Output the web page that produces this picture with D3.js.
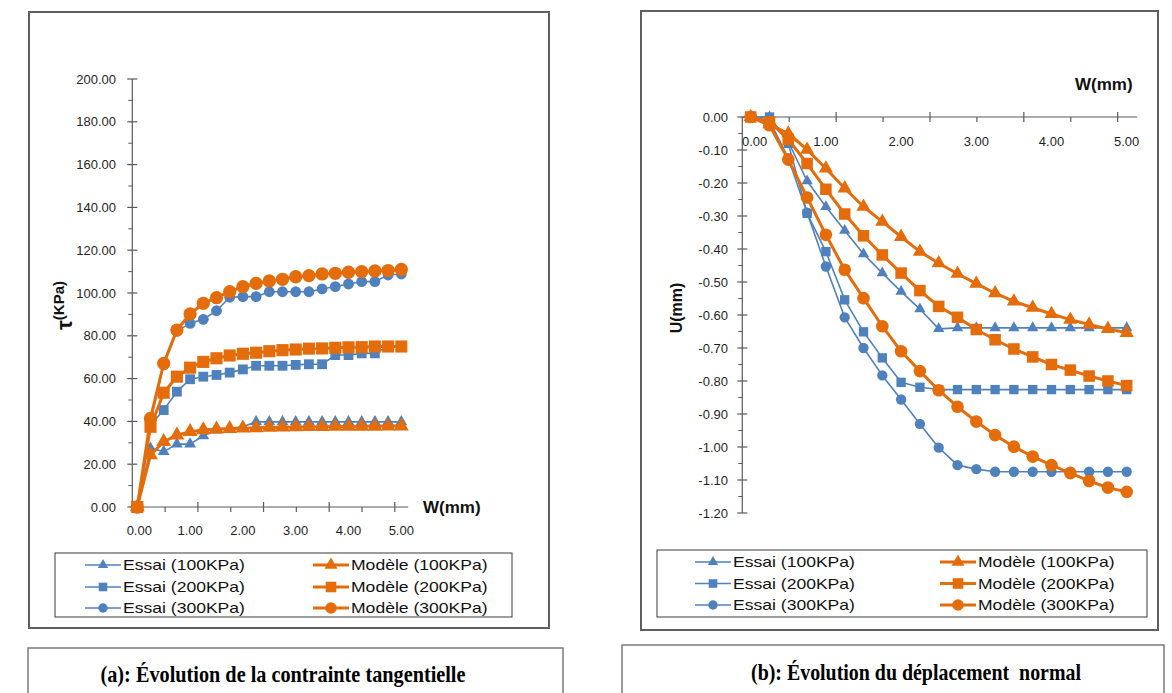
<!DOCTYPE html>
<html>
<head>
<meta charset="utf-8">
<script src="https://cdn.jsdelivr.net/npm/d3@7"></script>
<style>
  body { margin: 0; background: #fff; }
  svg text { font-family: 'Liberation Sans', Arial, sans-serif; }
</style>
</head>
<body>
<svg id="fig" width="1172" height="693"></svg>
<script>
// Horizontal displacement W (mm)
const displacement = [0, 0.25, 0.5, 0.75, 1, 1.25, 1.5, 1.75, 2, 2.25, 2.5, 2.75, 3, 3.25, 3.5, 3.75, 4, 4.25, 4.5, 4.75, 5];

// Shear stress tau (KPa)
const tauEssai100  = [0, 27.4, 25.9, 29.4, 29.4, 33.3, 36.0, 36.8, 37.5, 39.8, 39.8, 39.8, 39.8, 39.8, 39.8, 39.8, 39.8, 39.8, 39.8, 39.8, 39.8];
const tauModele100 = [0, 24.3, 30.5, 33.6, 35.2, 36.0, 36.4, 36.6, 36.8, 37.0, 37.2, 37.3, 37.4, 37.5, 37.5, 37.6, 37.6, 37.7, 37.7, 37.8, 37.8];
const tauEssai200  = [0, 38.3, 45.3, 53.9, 59.7, 60.9, 61.7, 62.8, 64.3, 66.0, 66.0, 66.0, 66.4, 66.7, 66.7, 71.0, 71.0, 71.8, 71.8, 75.0, 75.2];
const tauModele200 = [0, 37.5, 53.4, 60.9, 65.1, 67.8, 69.5, 70.8, 71.6, 72.1, 72.8, 73.3, 73.6, 74.0, 74.1, 74.4, 74.6, 74.7, 75.0, 75.0, 75.0];
const tauEssai300  = [0, 40.0, 66.4, 82.2, 85.8, 87.7, 91.7, 98.0, 98.3, 98.3, 100.6, 100.6, 100.6, 100.6, 101.9, 103.0, 104.2, 105.3, 105.3, 108.4, 108.9];
const tauModele300 = [0, 41.4, 67.1, 82.7, 90.2, 95.2, 97.8, 100.6, 103.0, 104.5, 105.6, 106.4, 107.6, 108.1, 108.9, 109.2, 109.7, 110.0, 110.3, 110.5, 111.0];

// Normal displacement U (mm)
const uEssai100  = [0, 0, -0.075, -0.194, -0.272, -0.344, -0.415, -0.473, -0.529, -0.582, -0.642, -0.639, -0.639, -0.639, -0.639, -0.639, -0.639, -0.639, -0.639, -0.639, -0.639];
const uModele100 = [0, -0.022, -0.05, -0.099, -0.156, -0.216, -0.272, -0.317, -0.363, -0.408, -0.443, -0.475, -0.505, -0.534, -0.559, -0.578, -0.597, -0.614, -0.629, -0.642, -0.654];
const uEssai200  = [0, 0, -0.08, -0.292, -0.408, -0.554, -0.651, -0.73, -0.804, -0.819, -0.826, -0.826, -0.826, -0.826, -0.826, -0.826, -0.826, -0.826, -0.826, -0.826, -0.826];
const uModele200 = [0, -0.015, -0.068, -0.141, -0.219, -0.294, -0.36, -0.418, -0.473, -0.526, -0.574, -0.607, -0.644, -0.675, -0.703, -0.727, -0.75, -0.767, -0.785, -0.80, -0.814];
const uEssai300  = [0, -0.01, -0.125, -0.29, -0.453, -0.607, -0.70, -0.783, -0.856, -0.93, -1.002, -1.055, -1.067, -1.075, -1.075, -1.075, -1.075, -1.075, -1.075, -1.075, -1.075];
const uModele300 = [0, -0.025, -0.129, -0.244, -0.357, -0.463, -0.549, -0.634, -0.71, -0.77, -0.828, -0.878, -0.923, -0.964, -0.999, -1.029, -1.055, -1.079, -1.103, -1.123, -1.136];

// Axis ticks
const wTickLabels = [0, 1, 2, 3, 4, 5];
const tauTicks = [0, 20, 40, 60, 80, 100, 120, 140, 160, 180, 200];
const uTicks = [0, -0.1, -0.2, -0.3, -0.4, -0.5, -0.6, -0.7, -0.8, -0.9, -1.0, -1.1, -1.2];
const wTickMarksA = [-0.095, 0.527, 1.148, 1.77, 2.391, 3.012, 3.634, 4.255, 4.877];
const wTickMarksB = [-0.112, 0.512, 1.136, 1.76, 2.384, 3.008, 3.632, 4.256, 4.88];

const seriesNames = ['Essai (100KPa)', 'Modèle (100KPa)', 'Essai (200KPa)', 'Modèle (200KPa)', 'Essai (300KPa)', 'Modèle (300KPa)'];

const BLUE = '#4f81bd', ORANGE = '#e46c0a', AXIS = '#5a5a5a', LABEL = '#1f1f1f';
const fmt = d3.formatLocale({decimal: '.', thousands: ',', grouping: [3], currency: ['', ''], minus: '-'}).format('.2f');

const shapes = {tri: d3.symbolTriangle, sq: d3.symbolSquare, circ: d3.symbolCircle};
const markerSize = {
  essai: {tri: 58, sq: 92, circ: 88},
  modele: {tri: 92, sq: 140, circ: 132}
};

function seriesStyle(i) {
  const essai = i % 2 === 0;
  const shape = ['tri', 'sq', 'circ'][Math.floor(i / 2)];
  return {
    color: essai ? BLUE : ORANGE,
    width: essai ? 1.6 : 3,
    shape,
    size: markerSize[essai ? 'essai' : 'modele'][shape]
  };
}

const svg = d3.select('#fig');

function panel(o) {
  const g = svg.append('g');
  const x = d3.scaleLinear().domain([0, 5]).range(o.xRange);
  const y = d3.scaleLinear().domain(o.yDomain).range(o.yRange);
  const axisX = x(o.tickMarks[0]);
  const y0 = y(0);
  const yMin = d3.min(o.yTicks), yMax = d3.max(o.yTicks);

  // vertical axis
  g.append('line').attr('x1', axisX).attr('x2', axisX)
    .attr('y1', y(yMax)).attr('y2', y(yMin))
    .attr('stroke', AXIS).attr('stroke-width', 1.2);
  const step = o.yTicks[1] - o.yTicks[0];
  o.yTicks.forEach((v, i) => {
    g.append('line').attr('x1', axisX - 5).attr('x2', axisX + 5)
      .attr('y1', y(v)).attr('y2', y(v)).attr('stroke', AXIS).attr('stroke-width', 1.2);
    if (i < o.yTicks.length - 1) {
      const m = v + step / 2;
      g.append('line').attr('x1', axisX - 4).attr('x2', axisX)
        .attr('y1', y(m)).attr('y2', y(m)).attr('stroke', AXIS).attr('stroke-width', 1);
    }
    g.append('text').attr('x', o.yLabelX).attr('y', y(v)).attr('dy', '0.36em')
      .attr('text-anchor', 'end').attr('font-size', 13).attr('fill', LABEL)
      .text(fmt(v));
  });

  // horizontal axis
  g.append('line').attr('x1', axisX).attr('x2', x(o.xAxisEnd))
    .attr('y1', y0).attr('y2', y0).attr('stroke', AXIS).attr('stroke-width', 1.2);
  o.tickMarks.forEach((t, k) => {
    if (k === 0) return;
    const major = k % 2 === 0;
    g.append('line').attr('x1', x(t)).attr('x2', x(t))
      .attr('y1', major ? y0 - 5 : y0).attr('y2', y0 + 5)
      .attr('stroke', AXIS).attr('stroke-width', 1.2);
  });
  wTickLabels.forEach(v => {
    g.append('text').attr('x', x(v) + (v === 0 ? o.zeroShift : 0)).attr('y', o.xLabelY)
      .attr('text-anchor', 'middle').attr('font-size', 13).attr('fill', LABEL)
      .text(fmt(v));
  });

  // series: tests first, then model curves on top
  const order = [0, 2, 4, 1, 3, 5];
  order.forEach(i => {
    const st = seriesStyle(i);
    const pts = displacement.map((w, j) => [x(w), y(o.data[i][j])]);
    g.append('path').attr('d', d3.line()(pts)).attr('fill', 'none')
      .attr('stroke', st.color).attr('stroke-width', st.width)
      .attr('stroke-linejoin', 'round');
    const sym = d3.symbol().type(shapes[st.shape]).size(st.size * o.markerScale);
    g.selectAll(null).data(pts).join('path')
      .attr('transform', d => `translate(${d[0]},${d[1]})`)
      .attr('d', sym).attr('fill', st.color);
  });

  // legend
  const L = o.legend;
  g.append('rect').attr('x', L.x).attr('y', L.y).attr('width', L.w).attr('height', L.h)
    .attr('fill', '#fff').attr('stroke', '#3a3a3a').attr('stroke-width', 1);
  seriesNames.forEach((name, i) => {
    const st = seriesStyle(i);
    const col = i % 2, row = Math.floor(i / 2);
    const lx = L.colX[col], ly = L.rowY[row];
    g.append('line').attr('x1', lx).attr('x2', lx + 36).attr('y1', ly).attr('y2', ly)
      .attr('stroke', st.color).attr('stroke-width', st.width);
    g.append('path').attr('transform', `translate(${lx + 18},${ly})`)
      .attr('d', d3.symbol().type(shapes[st.shape]).size(st.size * 0.8)).attr('fill', st.color);
    const t = g.append('text').attr('x', lx + 38).attr('y', ly).attr('dy', '0.36em')
      .attr('font-size', 15).attr('fill', '#111').text(name);
    const len = t.node().getComputedTextLength();
    t.attr('textLength', len * 1.17).attr('lengthAdjust', 'spacingAndGlyphs');
  });
  return {g, x, y};
}

// outer frames
svg.append('rect').attr('x', 29).attr('y', 12).attr('width', 520).attr('height', 616)
  .attr('fill', 'none').attr('stroke', '#5f5f5f').attr('stroke-width', 2);
svg.append('rect').attr('x', 641).attr('y', 11).attr('width', 517).attr('height', 619)
  .attr('fill', 'none').attr('stroke', '#5f5f5f').attr('stroke-width', 2);

// (a) shear stress
const a = panel({
  xRange: [137.3, 401.3], yDomain: [0, 200], yRange: [507, 79],
  yTicks: tauTicks, tickMarks: wTickMarksA, xAxisEnd: 5.13,
  yLabelX: 116, xLabelY: 535, zeroShift: 2, markerScale: 1.05,
  data: [tauEssai100, tauModele100, tauEssai200, tauModele200, tauEssai300, tauModele300],
  legend: {x: 55, y: 553, w: 457, h: 64, colX: [85, 313], rowY: [565, 587, 608]}
});
a.g.append('text').attr('x', 423).attr('y', 513).attr('font-size', 17)
  .attr('font-weight', 'bold').attr('fill', '#111').text('W(mm)');
const tauLabel = a.g.append('text').attr('transform', 'translate(72,330) rotate(-90)')
  .attr('font-weight', 'bold').attr('fill', '#111');
tauLabel.append('tspan').attr('font-size', 22).text('τ');
tauLabel.append('tspan').attr('font-size', 15).attr('dy', -8).text('(KPa)');

// (b) normal displacement
const b = panel({
  xRange: [750.7, 1126.7], yDomain: [0, -1.2], yRange: [117, 513],
  yTicks: uTicks, tickMarks: wTickMarksB, xAxisEnd: 5.14,
  yLabelX: 728, xLabelY: 146, zeroShift: 4, markerScale: 0.95,
  data: [uEssai100, uModele100, uEssai200, uModele200, uEssai300, uModele300],
  legend: {x: 657, y: 550, w: 490, h: 67, colX: [695, 940], rowY: [562, 583.5, 605]}
});
b.g.append('text').attr('x', 1075).attr('y', 90).attr('font-size', 17)
  .attr('font-weight', 'bold').attr('fill', '#111').text('W(mm)');
b.g.append('text').attr('transform', 'translate(682,308) rotate(-90)')
  .attr('text-anchor', 'middle').attr('font-size', 16).attr('font-weight', 'bold')
  .attr('fill', '#111').text('U(mm)');

// captions
const captions = [
  {x: 28, y: 648, w: 535, cx: 283, ty: 682, len: 365, text: '(a): Évolution de la contrainte tangentielle'},
  {x: 622, y: 645, w: 542, cx: 916, ty: 680, len: 330, text: '(b): Évolution du déplacement  normal'}
];
captions.forEach(c => {
  svg.append('rect').attr('x', c.x).attr('y', c.y).attr('width', c.w).attr('height', 60)
    .attr('fill', 'none').attr('stroke', '#7a7a7a').attr('stroke-width', 1.5);
  svg.append('text').attr('x', c.cx).attr('y', c.ty).attr('text-anchor', 'middle')
    .style('font-family', "'Liberation Serif', 'Times New Roman', serif")
    .style('white-space', 'pre')
    .attr('font-size', 23).attr('font-weight', 'bold').attr('fill', '#000')
    .attr('textLength', c.len).attr('lengthAdjust', 'spacingAndGlyphs')
    .text(c.text);
});
</script>
</body>
</html>
